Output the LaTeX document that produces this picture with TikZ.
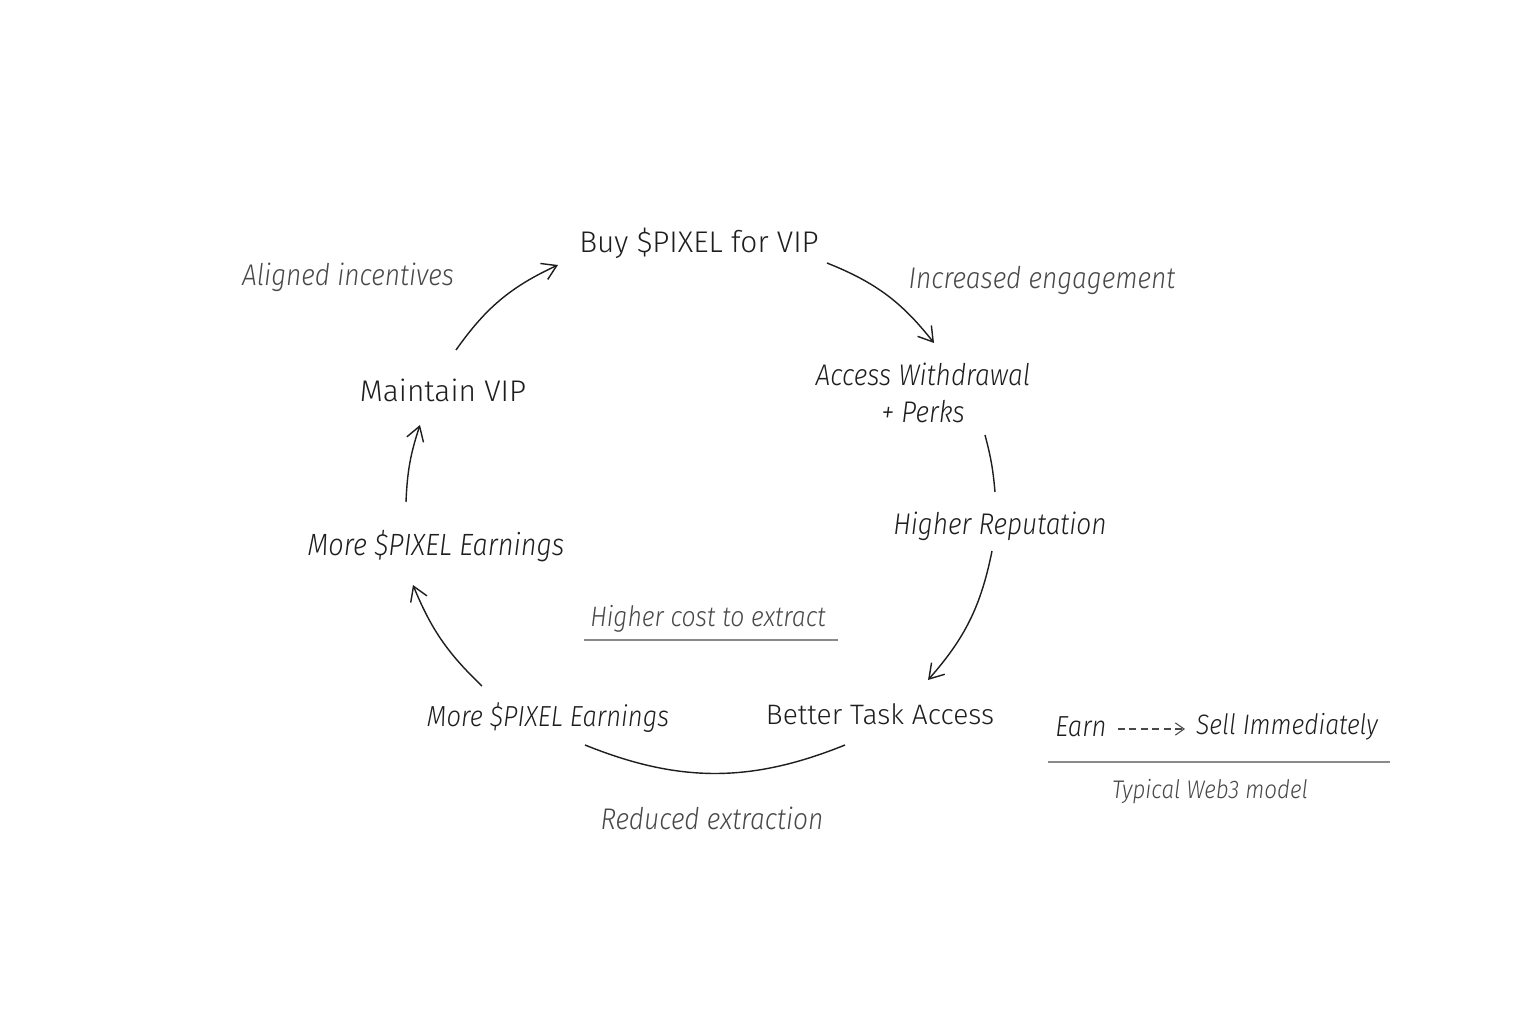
\documentclass[tikz,border=0pt]{standalone}
\usepackage{fontspec}
\setmainfont{Fira Sans}[UprightFont=* Light, ItalicFont=* Light Italic, ItalicFeatures={FakeStretch=0.88}]
\usetikzlibrary{arrows.meta}
\definecolor{encre}{HTML}{1E1E1E}
\definecolor{gris}{HTML}{484848}
\definecolor{filet}{HTML}{8A8A8A}
\tikzset{
  etape/.style={text=encre, font=\fontsize{17}{21}\selectfont},
  etapei/.style={text=encre, font=\fontsize{17}{21}\selectfont\itshape},
  effet/.style={text=gris, font=\fontsize{17}{21}\selectfont\itshape},
  fleche/.style={draw=encre, line width=0.8pt, -{Straight Barb[length=8pt,width=10pt]}},
  trait/.style={draw=encre, line width=0.8pt},
}

\begin{document}
\begin{tikzpicture}[x=0.02cm, y=-0.02cm]
        % Cadre de la figure (1 unite = 1 pixel de l'image)
        \fill[white] (0,0) rectangle (1536,1024);
        \useasboundingbox (0,0) rectangle (1536,1024);

        % Les etapes du cycle
        \node[etape] (achat) at (699,243) {Buy \$PIXEL for VIP};
        \node[etapei, align=center] (acces) at (923,393) {Access Withdrawal\\+ Perks};
        \node[etapei] (reput) at (1000,526) {Higher Reputation};
        \node[etape, font=\fontsize{16}{20}\selectfont] (taches) at (880,714) {Better Task Access};
        \node[etapei, font=\fontsize{16.5}{20}\selectfont\itshape] (gainsbas) at (548,718) {More \$PIXEL Earnings};
        \node[etapei, font=\fontsize{17.5}{21}\selectfont\itshape] (gainshaut) at (436,546) {More \$PIXEL Earnings};
        \node[etape] (vip) at (443,390) {Maintain VIP};

        % Les effets (en gris)
        \node[effet] (aligne) at (348,277) {Aligned incentives};
        \node[effet] (engage) at (1042,280) {Increased engagement};
        \node[effet, font=\fontsize{16}{20}\selectfont\itshape] (cout) at (708,619) {Higher cost to extract};
        \node[effet] (reduit) at (712,818) {Reduced extraction};
        \draw[filet, line width=0.6pt] ([shift={(-124,21)}]cout.center) -- ([shift={(130,21)}]cout.center);

        % Les fleches du cycle, dans le sens des aiguilles d'une montre
        \draw[fleche] ([shift={(13,-40)}]vip.center) to[bend left=15] ([shift={(-141,22)}]achat.center);
        \draw[fleche] ([shift={(128,20)}]achat.center) to[bend left=15] ([shift={(11,-50)}]acces.center);
        \draw[trait] ([shift={(62,42)}]acces.center) to[bend left=5] ([shift={(-5,-34)}]reput.center);
        \draw[fleche] ([shift={(-8,25)}]reput.center) to[bend left=15] ([shift={(48,-34)}]taches.center);
        \draw[trait] ([shift={(-35,31)}]taches.center) to[bend left=22] ([shift={(37,27)}]gainsbas.center);
        \draw[fleche] ([shift={(-66,-32)}]gainsbas.center) to[bend left=12] ([shift={(-23,39)}]gainshaut.center);
        \draw[fleche] ([shift={(-30,-44)}]gainshaut.center) to[bend left=8] ([shift={(-23,35)}]vip.center);

        % Le modele Web3 classique, a droite
        \node[etapei, font=\fontsize{16.5}{20}\selectfont\itshape] (gagne) at (1081,727) {Earn};
        \node[etapei, font=\fontsize{16}{20}\selectfont\itshape] (vend) at (1287,727) {Sell Immediately};
        \draw[gris, line width=0.6pt, dash pattern=on 4pt off 2.5pt, -{Straight Barb[length=5pt,width=7pt]}]
            ([shift={(37,2)}]gagne.center) -- ([shift={(-102,2)}]vend.center);
        \draw[filet, line width=0.6pt] ([shift={(-33,35)}]gagne.center) -- ([shift={(103,35)}]vend.center);
        \node[effet, font=\fontsize{14.5}{17}\selectfont\itshape] (web3) at (1210,792) {Typical Web3 model};
\end{tikzpicture}
\end{document}
